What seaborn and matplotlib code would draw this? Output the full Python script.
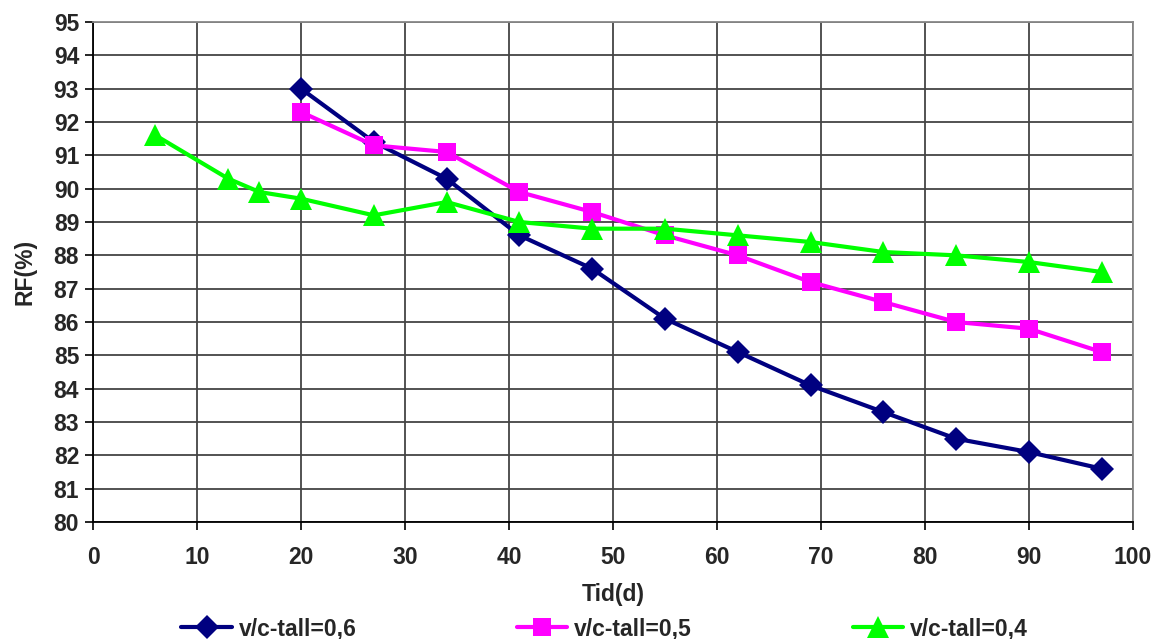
import matplotlib
matplotlib.use("Agg")
import matplotlib.pyplot as plt
import seaborn as sns
import pandas as pd

x_06 = [20, 27, 34, 41, 48, 55, 62, 69, 76, 83, 90, 97]
y_06 = [93.0, 91.4, 90.3, 88.6, 87.6, 86.1, 85.1, 84.1, 83.3, 82.5, 82.1, 81.6]
x_05 = [20, 27, 34, 41, 48, 55, 62, 69, 76, 83, 90, 97]
y_05 = [92.3, 91.3, 91.1, 89.9, 89.3, 88.6, 88.0, 87.2, 86.6, 86.0, 85.8, 85.1]
x_04 = [6, 13, 16, 20, 27, 34, 41, 48, 55, 62, 69, 76, 83, 90, 97]
y_04 = [91.6, 90.3, 89.9, 89.7, 89.2, 89.6, 89.0, 88.8, 88.8, 88.6, 88.4, 88.1, 88.0, 87.8, 87.5]
labels = ["v/c-tall=0,6", "v/c-tall=0,5", "v/c-tall=0,4"]

df = pd.concat([
    pd.DataFrame({"Tid": x_06, "RF": y_06, "serie": labels[0]}),
    pd.DataFrame({"Tid": x_05, "RF": y_05, "serie": labels[1]}),
    pd.DataFrame({"Tid": x_04, "RF": y_04, "serie": labels[2]}),
])

sns.set_theme(style="white")
plt.rcParams['font.family'] = ['Liberation Sans', 'DejaVu Sans']
plt.rcParams['font.weight'] = 'bold'

FS = 16.5
fig = plt.figure(figsize=(11.56, 6.39), dpi=100)
ax = fig.add_axes([0.0805, 0.183, 0.8995, 0.7826])

palette = {labels[0]: "#000080", labels[1]: "#FF00FF", labels[2]: "#00FF00"}
markers = {labels[0]: "D", labels[1]: "s", labels[2]: "^"}
sizes = {labels[0]: 12, labels[1]: 13, labels[2]: 16}

for lab in labels:
    sub = df[df["serie"] == lab]
    sns.lineplot(data=sub, x="Tid", y="RF", color=palette[lab], marker=markers[lab],
                 markersize=sizes[lab], markeredgewidth=0, linewidth=3, ax=ax,
                 label=lab, sort=False)

ax.set_xlim(0, 100)
ax.set_ylim(80, 95)
ax.set_xticks(range(0, 101, 10))
ax.set_yticks(range(80, 96, 1))
ax.grid(True, color="#444444", linewidth=1.3)
ax.set_axisbelow(True)
for s in ax.spines.values():
    s.set_color("#000000")
    s.set_linewidth(1.3)
ax.spines['top'].set_color("#888888")
ax.spines['right'].set_color("#888888")
ax.tick_params(axis='both', which='both', direction='out', length=6, width=1.2,
               color='black', labelsize=FS, left=True, bottom=True)
ax.tick_params(axis='x', pad=11)
ax.tick_params(axis='y', pad=4)
for t in ax.get_xticklabels() + ax.get_yticklabels():
    t.set_fontweight('bold')
ax.set_xlabel("Tid(d)", fontsize=FS, fontweight='bold', labelpad=10)
ax.set_ylabel("RF(%)", fontsize=FS, fontweight='bold', labelpad=12)

handles, lbls = ax.get_legend_handles_labels()
ax.get_legend().remove()
fig.legend(handles, lbls, loc='center', bbox_to_anchor=(0.523, 0.016), ncol=3,
           frameon=False, handlelength=2.2, columnspacing=7.0,
           handletextpad=0.3, prop={'weight': 'bold', 'size': FS})

fig.savefig("out.png", dpi=100)
